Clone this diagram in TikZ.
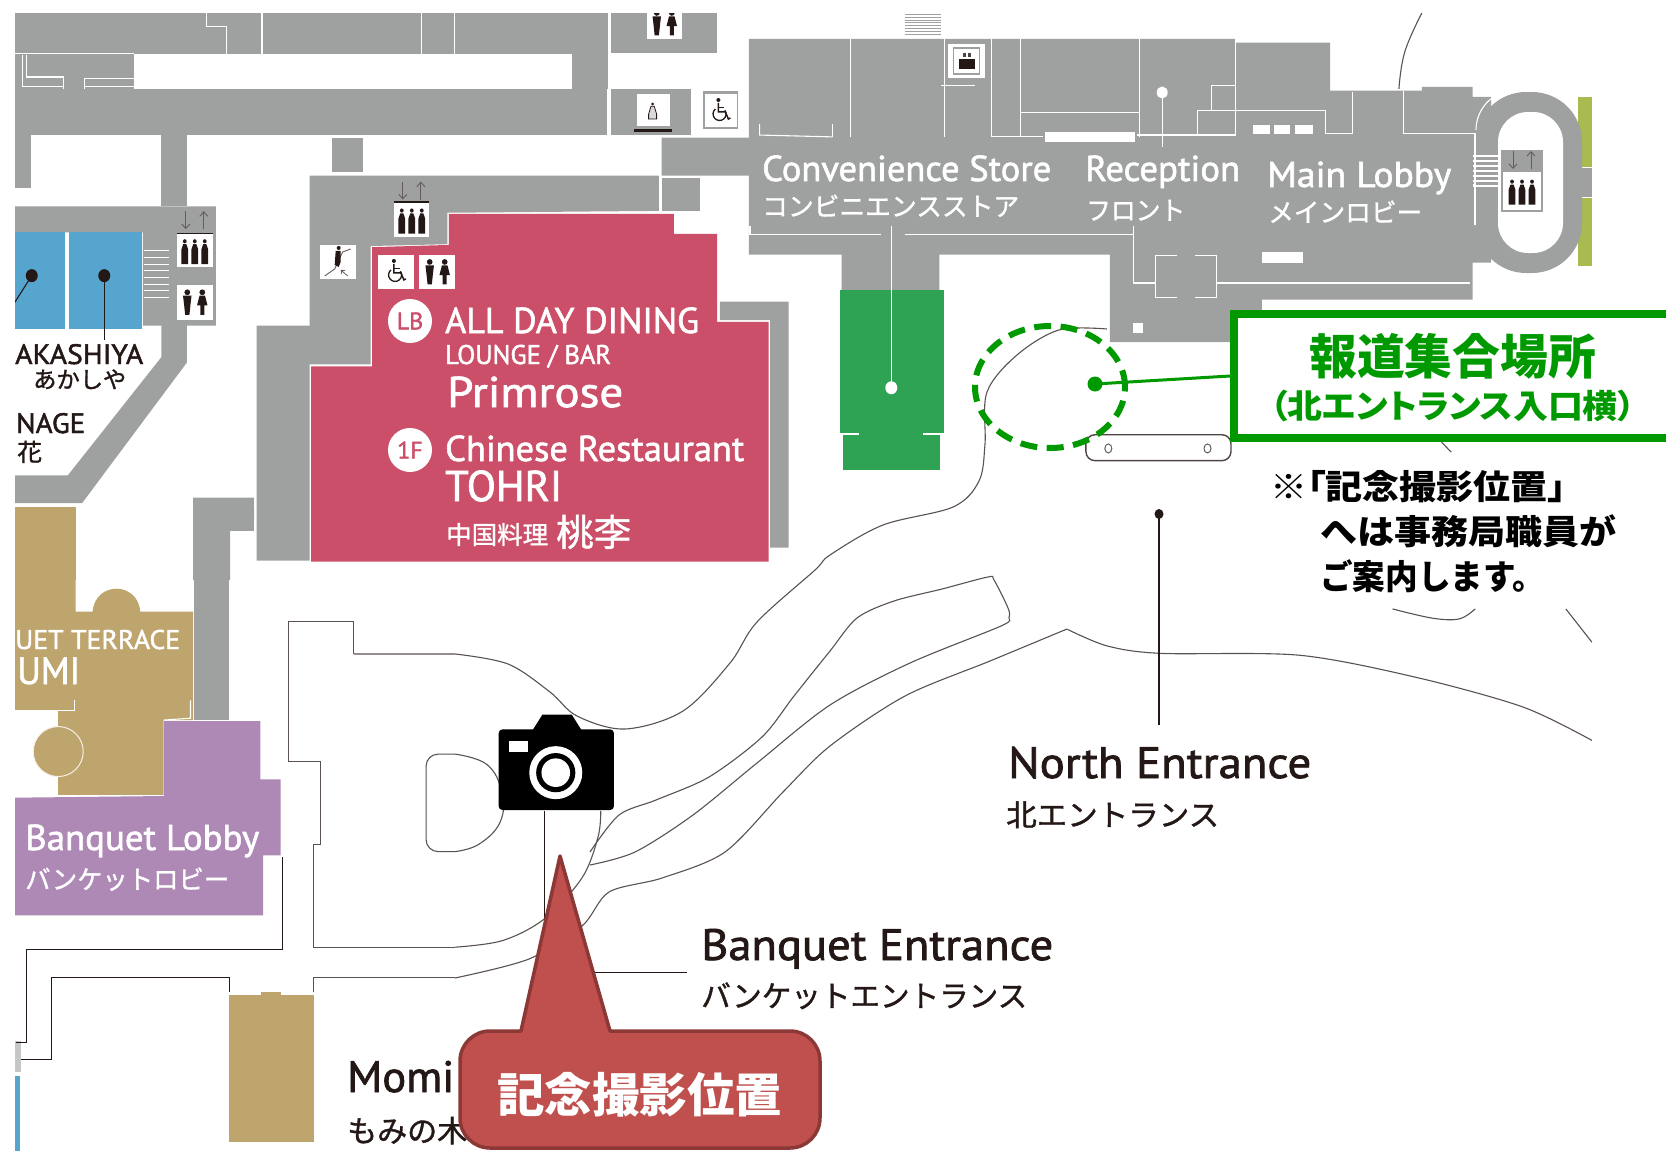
\documentclass[tikz,border=0pt]{standalone}
\usepackage{graphicx}
\usepackage{fontspec}
\usetikzlibrary{arrows.meta}
\setmainfont{PT Sans}
\newfontfamily\din[FakeBold=1.6]{PT Sans}
\newfontfamily\cjk[FakeBold=1.2]{Noto Sans CJK JP}
\newfontfamily\cjkh{Noto Sans CJK JP}
\newfontfamily\cjkp[RawFeature=+palt]{Noto Sans CJK JP}
\definecolor{gy}{HTML}{9FA0A0}
\definecolor{rd}{HTML}{CB4F69}
\definecolor{bl}{HTML}{55A5CF}
\definecolor{tn}{HTML}{BEA46D}
\definecolor{pu}{HTML}{AE89B6}
\definecolor{gr}{HTML}{2FA354}
\definecolor{ol}{HTML}{A9BA4E}
\definecolor{ink}{HTML}{231815}
\definecolor{press}{HTML}{009900}
\definecolor{call}{HTML}{C0504D}
\definecolor{callb}{HTML}{8C3836}
\newcommand\lab[8]{\node[anchor=base west,inner sep=0pt,text=#6] (#1) at (#2,#3) {\resizebox{#4pt}{\height}{\fontsize{#5}{#5}\selectfont\din#7{}#8}};}
\tikzset{
 z1/.style={x=0.5293pt,y=-0.37pt},
 z2/.style={shift={(830,0)},x=0.5332pt,y=-0.37pt},
 z3/.style={shift={(0,570)},x=0.5293pt,y=-0.3705pt},
 z4/.style={shift={(830,570)},x=0.5332pt,y=-0.3705pt},
 wl/.style={draw=white,line width=1.1pt},
 road/.style={draw=ink!75,line width=1.1pt},
 dk/.style={draw=ink,line width=1.1pt},
 arrowline/.style={draw=ink!70,line width=.9pt,-{Straight Barb[length=4.5pt,width=8pt]}},
 manfig/.pic={\fill[ink] (0pt,8pt) circle (2.3pt);
   \fill[ink] (-3.4pt,5.3pt)--(3.4pt,5.3pt)--(2.6pt,-1.5pt)--(1.7pt,-10pt)--(-1.7pt,-10pt)--(-2.6pt,-1.5pt)--cycle;},
 womfig/.pic={\fill[ink] (0pt,8pt) circle (2.3pt);
   \fill[ink] (-2.2pt,5.3pt)--(2.2pt,5.3pt)--(4.2pt,-2.5pt)--(1.6pt,-2.5pt)--(1.6pt,-10pt)--(-1.6pt,-10pt)--(-1.6pt,-2.5pt)--(-4.2pt,-2.5pt)--cycle;},
 liftfig/.pic={\fill[ink] (0pt,9pt) circle (1.8pt);
   \fill[ink] (-1.5pt,6.5pt)--(1.5pt,6.5pt)--(3.2pt,2pt)--(3.2pt,-11pt)--(-3.2pt,-11pt)--(-3.2pt,2pt)--cycle;},
 wcpair/.pic={\pic[scale=1.25] at (-7.5pt,0pt) {manfig}; \pic[scale=1.25] at (7.5pt,0pt) {womfig};},
 lifttrio/.pic={\pic[xscale=1.05,yscale=1.15] at (-10pt,0pt) {liftfig}; \pic[xscale=1.05,yscale=1.15] at (0pt,0pt) {liftfig}; \pic[xscale=1.05,yscale=1.15] at (10pt,0pt) {liftfig};},
 liftarrows/.pic={\draw[arrowline] (-9pt,9pt)--(-9pt,-9pt); \draw[arrowline] (9pt,-9pt)--(9pt,9pt);},
 wheelfig/.pic={\fill[ink] (-2pt,11pt) circle (2pt);
   \draw[ink,line width=1.5pt] (-2pt,8pt)--(-2pt,-1pt)--(5pt,-1pt)--(8pt,-8pt)--(10pt,-7pt);
   \draw[ink,line width=1.2pt] (-2pt,3.5pt)--(4pt,3.5pt);
   \draw[ink,line width=1.3pt] (-5pt,2pt) arc (130:395:6.5pt);},
 escfig/.pic={\draw[ink!70,line width=.9pt] (-13pt,-14pt)--(-3pt,-7pt)--(5pt,10pt)--(13pt,13pt);
   \fill[ink] (1pt,14pt) circle (2pt);
   \fill[ink] (-2pt,11pt)--(3pt,11pt)--(3pt,0pt)--(1pt,-5pt)--(-3pt,-3pt)--cycle;
   \draw[ink!70,line width=.8pt,-{Straight Barb[length=3pt,width=5pt]}] (10pt,-14pt)--(3pt,-8pt);},
 bottlefig/.pic={\draw[ink,line width=.8pt,fill=gy!40,scale=.8] (-2pt,6pt)--(2pt,6pt)--(5pt,-4pt)--(5pt,-10pt)--(-5pt,-10pt)--(-5pt,-4pt)--cycle;
   \fill[ink] (0pt,7pt) circle (1.6pt);},
 cupfig/.pic={\draw[gy,line width=1.2pt] (-13pt,-13pt) rectangle (13pt,13pt);
   \fill[ink] (-8pt,-8pt) rectangle (8pt,2pt);
   \fill[ink!80] (-4pt,4pt) rectangle (-1pt,8pt);
   \fill[ink!80] (1pt,4pt) rectangle (4pt,8pt);},
}
\begin{document}
\begin{tikzpicture}[x=1pt,y=-1pt]
\useasboundingbox (0,0) rectangle (1666,1151);
\fill[white] (0,0) rectangle (1666,1151);
\begin{scope}
\clip (15,13) rectangle (1592,1151);
% ---------- upper-left building
\begin{scope}[z1]
\fill[gy] (0,35) rectangle (1080,145);
\fill[gy] (1080,35) rectangle (1148,365);
\fill[gy] (1155,35) rectangle (1355,143);
\fill[gy] (0,145) rectangle (253,240);
\fill[gy] (0,240) rectangle (1148,365);
\fill[gy] (1155,240) rectangle (1305,365);
\fill[gy] (0,365) rectangle (58,508);
\fill[gy] (305,365) rectangle (353,558);
\fill[gy] (0,558)--(408,558)--(408,880)--(353,880)--(353,980)--(155,1360)--(0,1360)--(0,1285)--(128,1285)--(305,965)--(305,880)--(270,880)--(270,628)--(0,628)--cycle;
\fill[gy] (627,372) rectangle (685,465);
\fill[tn] (0,1370) rectangle (143,1568);
\foreach \x/\a/\b in {390/35/72,428/70/145,495/35/145,797/35/145,858/35/145}
  \draw[wl] (\x,\a)--(\x,\b);
\draw[wl] (390,72)--(428,72);
\draw[wl] (0,145)--(253,145);
\draw[wl] (50,150)--(50,208)--(120,208)--(120,240);
\draw[wl] (160,240)--(160,212)--(253,212);
\draw[wl] (42,150)--(42,235)--(120,235);
\draw[wl] (160,235)--(253,235);
% blue rooms
\fill[bl] (0,628) rectangle (122,890);
\fill[bl] (130,628) rectangle (268,890);
\foreach \y in {678,696,714,732,750,768,786,804} \draw[wl] (272,\y)--(320,\y);
\draw[dk] (197,745)--(197,920);
\fill[ink] (197,745) ellipse (6pt and 6.5pt);
\draw[dk] (60,745)--(0,880);
\fill[ink] (60,745) ellipse (6pt and 6.5pt);
% lifts and toilets, left
\fill[white] (335,632) rectangle (402,722);
\pic at (368,680) {lifttrio};
\draw[dk] (335,630)--(402,630);
\pic at (368,595) {liftarrows};
\fill[white] (335,770) rectangle (402,865);
\pic at (368,817) {wcpair};
% centre gray wing
\fill[gy] (585,475)--(1245,475)--(1245,570)--(845,575)--(845,660)--(700,665)--(700,985)--(585,985)--(585,1515)--(485,1515)--(485,880)--(585,880)--cycle;
\fill[gy] (1250,480) rectangle (1322,570);
\fill[gy] (365,1345)--(480,1345)--(480,1435)--(435,1435)--(435,1568)--(365,1568)--cycle;
\draw[wl] (480,1345)--(480,1372);
\draw[wl] (480,1405)--(480,1440);
% red restaurant
\fill[rd] (848,578)--(1273,578)--(1273,632)--(1355,632)--(1355,870)--(1452,870)--(1452,1518)--(588,1518)--(588,990)--(703,990)--(703,668)--(848,662)--cycle;
\fill[gy] (1360,815)--(1490,815)--(1490,1480)--(1455,1480)--(1455,865)--(1360,865)--cycle;
% icons
\fill[white] (745,550) rectangle (810,640);
\pic at (778,597) {lifttrio};
\draw[dk] (745,546)--(810,546);
\pic at (778,515) {liftarrows};
\fill[white] (605,662) rectangle (672,755);
\pic at (638,708) {escfig};
\fill[white] (715,688) rectangle (782,782);
\pic at (748,735) {wheelfig};
\fill[white] (792,688) rectangle (860,782);
\pic at (826,735) {wcpair};
\fill[white] (1222,35) rectangle (1288,105);
\pic at (1255,62) {wcpair};
\fill[white] (1203,255) rectangle (1265,340);
\pic at (1233,300) {bottlefig};
\fill[ink] (1198,350) rectangle (1270,357);
\fill[gy] (1328,245) rectangle (1395,350);
\fill[white] (1331,255) rectangle (1392,342);
\pic at (1361,300) {wheelfig};
\draw[wl] (1148,240)--(1148,365);
\end{scope}
% ---------- lobby
\begin{scope}[z2]
\fill[gy] (-152,105)--(760,105)--(760,115)--(938,115)--(938,245)--(1110,245)--(1110,235)--(1205,235)--(1205,262)--(1240,262)--(1240,710)--(1205,710)--(1205,810)--(810,810)--(810,850)--(750,850)--(750,925)--(525,925)--(525,688)--(205,688)--(205,785)--(22,785)--(22,688)--(-152,688)--(-152,475)--(-316,475)--(-316,372)--(-152,372)--cycle;
\foreach \y in {38,46,54,62,70,78,86,94} \draw[gy,line width=.9pt] (140,\y)--(208,\y);
% white partition lines
\draw[wl] (38,105)--(38,370);
\draw[wl] (215,105)--(215,370);
\draw[wl] (208,230)--(272,230);
\draw[wl] (303,105)--(303,370)--(400,370);
\draw[wl] (358,105)--(358,370);
\draw[wl] (358,305)--(580,305);
\draw[wl] (580,105)--(580,370);
\draw[wl] (760,105)--(760,365)--(575,365);
\draw[wl] (690,365)--(690,298)--(930,298)--(930,360)--(980,360)--(980,250);
\draw[wl] (715,298)--(715,232)--(760,232);
\draw[wl] (1075,245)--(1075,360)--(1210,360)--(1210,600);
\fill[white] (403,358) rectangle (572,383);
\fill[white] (793,338) rectangle (825,362);
\fill[white] (832,338) rectangle (862,362);
\fill[white] (872,338) rectangle (905,362);
\draw[wl] (623,250)--(623,398);
\fill[white] (623,250) ellipse (5.5pt and 6pt);
\fill[white] (810,680) rectangle (887,712);
\fill[white] (568,873) rectangle (587,900);
\foreach \y in {422,435,448,461,474,487,500} \draw[wl] (1205,\y)--(1250,\y);
\draw[wl] (-152,635)--(95,635);
\draw[wl] (140,635)--(570,635);
\draw[wl] (570,610)--(570,765)--(610,765);
\draw[wl] (650,690)--(610,690)--(610,805)--(650,805);
\draw[wl] (685,690)--(725,690)--(725,805)--(685,805);
\draw[wl] (725,765)--(1200,765);
\draw[wl] (-132,335)--(-132,365)--(5,370);
\draw[wl] (5,335)--(5,370);
\draw[wl] (-150,635)--(-150,610);
% green garden
\fill[gr] (18,785) rectangle (213,1170);
\fill[gr] (25,1165) rectangle (207,1270);
\draw[wl] (18,1173)--(55,1173);
\draw[wl] (175,1173)--(213,1173);
\draw[wl] (115,610)--(115,1048);
\fill[white] (115,1048) ellipse (6pt and 6.5pt);
% stairs-side icon
\fill[white] (222,120) rectangle (290,210);
\pic at (256,165) {cupfig};
% olive
\fill[ol] (1402,262) rectangle (1429,452);
\fill[ol] (1402,535) rectangle (1429,720);
% top-right leader
\draw[road] plot[smooth,tension=.7] coordinates {(1110,35)(1078,140)(1067,240)};
\end{scope}
% ring in true pixels
\fill[gy,rounded corners=50pt] (1476,92) rectangle (1582,273);
\fill[gy] (1582,168) rectangle (1592,197);
\fill[white,rounded corners=30pt] (1498,112) rectangle (1563,253);
\fill[gy] (1501,150) rectangle (1543,212);
\fill[gy] (1476,112) rectangle (1498,253);
\draw[wl] (1475,133)--(1475,225);
\foreach \y in {156,161,166,171,176,181,186} \draw[wl] (1473,\y)--(1499,\y);
\fill[white] (1503,172) rectangle (1541,210);
\pic at (1522,192) {lifttrio};
\pic at (1522,160) {liftarrows};
\draw[wl,line width=1.1pt] (1476,130) arc (180:100:40pt);
% ---------- lower left
\begin{scope}[z3]
\fill[tn] (0,0)--(143,0)--(143,112)--(175,112)..controls (180,30) and (260,30)..(265,112)--(365,112)--(365,405)--(310,405)--(310,607)--(110,607)--(110,380)--(0,380)--cycle;
\draw[wl] (0,380)--(140,380)--(140,352);
\draw[wl] (360,352)--(360,400)--(310,405)--(310,605);
\fill[tn,draw=white!85!tn,line width=1pt] (110,490) ellipse (25pt and 25pt);
\fill[gy] (367,0) rectangle (433,405);
\fill[pu] (310,408)--(492,408)--(492,565)--(530,565)--(530,770)--(497,770)--(497,932)--(0,932)--(0,615)--(310,610)--cycle;
\fill[tn] (432,1147) rectangle (593,1543);
\fill[tn] (493,1140) rectangle (530,1147);
\fill[gy!60] (28,1270) rectangle (40,1355);
\fill[bl] (28,1365) rectangle (38,1570);
% roads and walls in fixed parts
\draw[road] (668,228)--(668,140)--(545,140)--(545,518)--(605,518)--(605,742)--(592,742)--(592,1018)--(860,1018);
\draw[road] plot[smooth,tension=.55] coordinates {(860,1018)(950,1000)(1030,940)(1100,830)(1130,720)(1135,650)};
\draw[road,rounded corners=12pt] (860,497)--(805,497)--(805,760)--(860,760);
\draw[road] plot[smooth,tension=.7] coordinates {(860,497)(920,525)(948,600)(945,680)(905,740)(860,760)};
\draw[road] (592,1140)--(592,1100)--(860,1100);
% black corridor lines
\draw[dk] (533,775)--(533,1025)--(50,1025)--(50,1275)--(30,1275);
\draw[dk] (40,1320)--(97,1320)--(97,1100)--(433,1100)--(433,1140);
\draw[dk] (1028,650)--(1028,950);
\draw[dk] (1125,1087)--(1297,1087);
\end{scope}
% long curves in true pixels
\draw[road] plot[smooth,tension=.55] coordinates {(1107,329)(1059,330)(1017,355)(987,392)(985,444)(979,481)(953,507)(883,525)(830,555)(815,570)(757,622)(730,663)(683,711)(625,729)(577,716)(550,692)(508,664)(455,654)}--(354,654);
\draw[road] plot[smooth,tension=.5] coordinates {(590,852)(619,815)(656,800)(709,777)(762,737)(794,696)(830,651)(857,618)(894,601)(942,589)(988,577)(994,580)(1008,608)(1009,618)(1001,626)(910,663)(830,705)(757,763)(693,815)(635,852)(590,865)};
\draw[road] plot[smooth,tension=.5] coordinates {(455,978)(529,959)(582,926)(609,892)(662,878)(725,852)(783,792)(830,746)(905,696)(990,661)(1067,629)};
\begin{scope}[z4]
\draw[road] plot[smooth,tension=.5] coordinates {(445,160)(520,205)(620,225)(880,230)(1100,290)(1300,370)(1429,460)};
\draw[road] plot[smooth,tension=.6] coordinates {(1055,105)(1130,130)(1180,132)(1210,105)};
\draw[road] (1380,105)--(1429,195);
\end{scope}
\begin{scope}[z2]
\draw[road] (1147,1195)--(1165,1222);
\draw[ink!80,line width=1.4pt,rounded corners=9pt] (480,1175) rectangle (752,1245);
\draw[ink!70,line width=1pt] (522,1212) ellipse (3.5pt and 4.5pt);
\draw[ink!70,line width=1pt] (708,1212) ellipse (3.5pt and 4.5pt);
\end{scope}
\draw[dk] (1159,514)--(1159,725);
\fill[ink] (1159,514) ellipse (4.5pt and 5pt);
% ---------- map labels
\lab{akashiya}{15}{364}{128}{28}{ink}{}{AKASHIYA}
\lab{akashiyaj}{33}{388}{93}{23}{ink}{\cjk}{あかしや}
\lab{nage}{16}{433}{69}{28}{ink}{}{NAGE}
\lab{hana}{17}{461}{25}{24}{ink}{\cjk}{花}
\lab{alldining}{445}{333}{254}{36}{white}{}{ALL DAY DINING}
\lab{lounge}{445}{364}{166}{27}{white}{}{LOUNGE / BAR}
\lab{primrose}{447}{407}{176}{43}{white}{}{Primrose}
\lab{chinese}{445}{461}{299}{36}{white}{}{Chinese Restaurant}
\lab{tohri}{445}{501}{117}{43}{white}{}{TOHRI}
\lab{chuka}{446}{544}{102}{25}{white}{\cjk}{中国料理}
\lab{toori}{556}{546}{75}{37}{white}{\cjk}{桃李}
\node[circle,fill=white,text=rd,inner sep=0pt,minimum size=44pt,font=\din\fontsize{24}{24}\selectfont] (lb) at (410,321) {LB};
\node[circle,fill=white,text=rd,inner sep=0pt,minimum size=44pt,font=\din\fontsize{24}{24}\selectfont] (ff) at (410,450) {1F};
\lab{terrace}{15}{649}{165}{27}{white}{}{UET TERRACE}
\lab{izumi}{17}{684}{63}{38}{white}{}{UMI}
\lab{blobby}{25}{850}{234}{36}{white}{}{Banquet Lobby}
\lab{blobbyj}{25}{889}{204}{26}{white}{\cjk}{バンケットロビー}
\lab{conv}{762}{181}{289}{36}{white}{}{Convenience Store}
\lab{convj}{762}{216}{257}{26}{white}{\cjk}{コンビニエンスストア}
\lab{recep}{1085}{181}{155}{36}{white}{}{Reception}
\lab{recepj}{1086}{220}{99}{26}{white}{\cjk}{フロント}
\lab{mainl}{1267}{187}{184}{36}{white}{}{Main Lobby}
\lab{mainlj}{1268}{222}{154}{26}{white}{\cjk}{メインロビー}
\lab{north}{1008}{778}{303}{44}{ink}{}{North Entrance}
\lab{northj}{1006}{826}{213}{30}{ink}{\cjk}{北エントランス}
\lab{banq}{701}{960}{352}{44}{ink}{}{Banquet Entrance}
\lab{banqj}{701}{1007}{326}{30}{ink}{\cjk}{バンケットエントランス}
\lab{momi}{347}{1092}{107}{44}{ink}{}{Momi}
\lab{momij}{347}{1142}{120}{30}{ink}{\cjk}{もみの木}
\end{scope}
% ---------- camera
\begin{scope}[z3]
\fill[black,rounded corners=4pt] (942,430) rectangle (1160,648);
\fill[black] (1005,435)--(1025,390)--(1080,390)--(1100,435)--cycle;
\fill[white] (962,462) rectangle (997,492);
\fill[white] (1050,547) ellipse (26.5pt and 26.5pt);
\fill[black] (1050,547) ellipse (19.6pt and 19.6pt);
\fill[white] (1050,547) ellipse (14.3pt and 14.3pt);
\end{scope}
% ---------- callout
\draw[fill=call,draw=callb,line width=3.5pt,line join=round] (560,856)--(610,1031)--(790,1031) arc (90:0:30pt)--(820,1118) arc (0:-90:30pt)--(490,1148) arc (270:180:30pt)--(460,1061) arc (180:90:30pt)--(521,1031)--cycle;
\lab{kinen}{497}{1112}{285}{47}{white}{\cjkh\bfseries}{記念撮影位置}
% ---------- press point
\node[draw=press,fill=white,line width=8pt,minimum width=460pt,minimum height=124pt,inner sep=0pt,anchor=west] (pressbox) at (1230,376) {};
\draw[press,line width=6pt,dash pattern=on 17pt off 9.5pt] (1050,387) ellipse (75pt and 61pt);
\node[circle,fill=press,inner sep=0pt,minimum size=15pt] (pressdot) at (1095,384) {};
\draw[press,line width=3pt] (pressdot.center)--(pressbox.west);
\lab{hodo}{1309}{374}{287}{48}{press}{\cjkh\bfseries}{報道集合場所}
\lab{hodoj}{1270}{418}{365}{33}{press}{\cjkp\bfseries}{（北エントランス入口横）}
\lab{notea}{1270}{499}{296}{34}{black}{\cjkp\bfseries}{※「記念撮影位置」}
\lab{noteb}{1320}{544}{296}{34}{black}{\cjkh\bfseries}{へは事務局職員が}
\lab{notec}{1320}{589}{225}{34}{black}{\cjkh\bfseries}{ご案内します。}
\end{tikzpicture}
\end{document}
